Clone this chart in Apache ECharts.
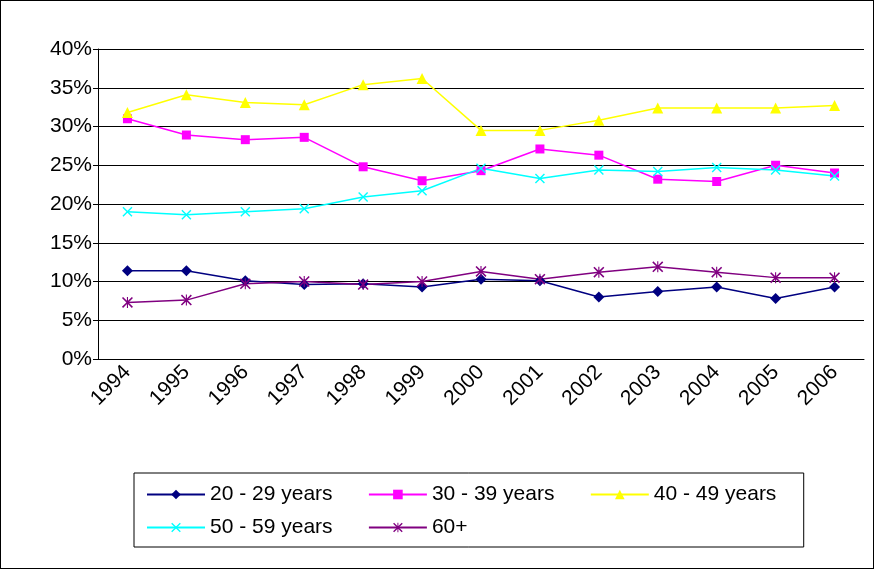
<!DOCTYPE html>
<html><head><meta charset="utf-8">
<script src="https://cdn.jsdelivr.net/npm/echarts@6/dist/echarts.min.js"></script>
<style>html,body{margin:0;padding:0;background:#fff}#c{width:874px;height:569px;box-sizing:border-box;border:1px solid #000}</style>
</head><body><div id="c"></div>
<script>
const years = ['1994','1995','1996','1997','1998','1999','2000','2001','2002','2003','2004','2005','2006'];
const s20 = [11.4,11.4,10.1,9.6,9.7,9.3,10.3,10.1,8.0,8.7,9.3,7.8,9.3];
const s30 = [31.0,28.9,28.3,28.6,24.8,23.0,24.3,27.1,26.3,23.2,22.9,25.0,24.0];
const s40 = [31.8,34.1,33.1,32.8,35.4,36.2,29.5,29.5,30.8,32.4,32.4,32.4,32.7];
const s50 = [19.0,18.6,19.0,19.4,20.9,21.7,24.6,23.3,24.4,24.2,24.7,24.4,23.6];
const s60 = [7.3,7.6,9.7,10.0,9.6,10.0,11.3,10.3,11.2,11.9,11.2,10.5,10.5];
const names = ['20 - 29 years','30 - 39 years','40 - 49 years','50 - 59 years','60+'];
const xPath = 'path://M0,1 L1,0 L5,4 L9,0 L10,1 L6,5 L10,9 L9,10 L5,6 L1,10 L0,9 L4,5 Z';
const starPath = 'path://M0,1 L1,0 L5,4 L9,0 L10,1 L6,5 L10,9 L9,10 L5,6 L1,10 L0,9 L4,5 Z M4.5,0 L5.5,0 L5.5,10 L4.5,10 Z';
const F = 'Liberation Sans, Arial';
function ser(name,data,color,symbol,size){
  return {name,type:'line',data,symbol,symbolSize:size,lineStyle:{color,width:1.5},itemStyle:{color},animation:false};
}
const chart = echarts.init(document.getElementById('c'));
chart.setOption({
  animation:false,
  textStyle:{fontFamily:F,color:'#000'},
  grid:{left:97,top:48,right:9,bottom:209,containLabel:false},
  xAxis:{type:'category',data:years,boundaryGap:true,
    axisLine:{lineStyle:{color:'#000'}},axisTick:{show:false},
    axisLabel:{rotate:45,fontSize:21,color:'#000',margin:10,fontFamily:F}},
  yAxis:{type:'value',min:0,max:40,interval:5,
    axisLabel:{formatter:'{value}%',fontSize:21,color:'#000',fontFamily:F,margin:6},
    axisLine:{show:true,lineStyle:{color:'#000'}},axisTick:{show:true,lineStyle:{color:'#000'}},
    splitLine:{lineStyle:{color:'#000',width:1}}},
  legend:{left:133,top:472,width:686,itemWidth:58,itemHeight:12,itemGap:12,
    padding:[11,4,9,12],borderColor:'#000',borderWidth:1,
    formatter:function(n){return n.length>3 ? n+'\u00a0'.repeat(4) : n;},
    textStyle:{fontSize:21,color:'#000',fontFamily:F},data:names},
  series:[
    ser(names[0],s20,'#000080','diamond',11),
    ser(names[1],s30,'#FF00FF','rect',9),
    ser(names[2],s40,'#FFFF00','triangle',11),
    ser(names[3],s50,'#00FFFF',xPath,10),
    ser(names[4],s60,'#800080',starPath,11)
  ]
});
</script></body></html>
